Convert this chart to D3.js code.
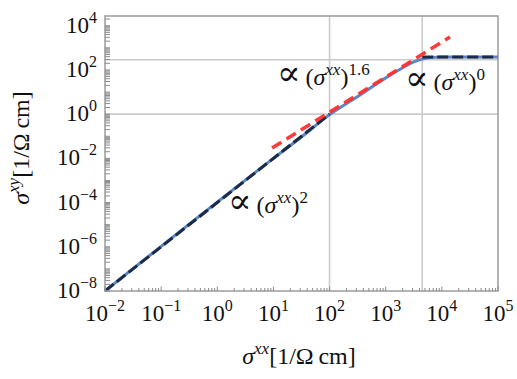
<!DOCTYPE html>
<html>
<head>
<meta charset="utf-8">
<script src="https://cdn.jsdelivr.net/npm/d3@7"></script>
<style>
  body { margin: 0; background: #fff; }
</style>
</head>
<body>
<svg id="chart" width="517" height="379"></svg>
<script>
// values
const xTickExps = [-2, -1, 0, 1, 2, 3, 4, 5];
const yTickExps = [-8, -6, -4, -2, 0, 2, 4];

// full curve (solid blue)
const curveXX = [0.01, 10, 31.6, 100, 316, 1000, 2000, 3160, 4470, 6310, 10000, 20000, 100000];
const curveXY = [1e-8, 0.01, 0.093, 0.955, 6.31, 43.7, 126, 229, 309, 363, 385, 389, 389];

// asymptotes
const quadXX = [0.01, 100];
const quadXY = [1e-8, 1];
const flatXX = [4470, 100000];
const flatXY = [389, 389];
const midXX = [9.44, 13960];
const midXY = [0.0295, 3090];

// reference grid lines
const gridXX = [100, 4470];
const gridXY = [1, 290];

const FONT = "'Liberation Serif', 'DejaVu Serif', serif";

const svg = d3.select("#chart");
const plot = { left: 105, right: 498, top: 16, bottom: 291 };

const x = d3.scaleLog().domain([1e-2, 1e5]).range([plot.left, plot.right]);
const y = d3.scaleLog().domain([1e-8, Math.pow(10, 4.44)]).range([plot.bottom, plot.top]);

// grid
svg.selectAll(".gx").data(gridXX).enter().append("line")
    .attr("x1", d => x(d)).attr("x2", d => x(d))
    .attr("y1", plot.top).attr("y2", plot.bottom)
    .attr("stroke", "#cbcbcb").attr("stroke-width", 1.6);
svg.selectAll(".gy").data(gridXY).enter().append("line")
    .attr("x1", plot.left).attr("x2", plot.right)
    .attr("y1", d => y(d)).attr("y2", d => y(d))
    .attr("stroke", "#cbcbcb").attr("stroke-width", 1.6);

const zip = (a, b) => a.map((v, i) => [v, b[i]]);
const smooth = d3.line().x(d => x(d[0])).y(d => y(d[1])).curve(d3.curveMonotoneX);
const straight = d3.line().x(d => x(d[0])).y(d => y(d[1]));

svg.append("path")
    .attr("d", smooth(zip(curveXX, curveXY)))
    .attr("fill", "none").attr("stroke", "#5b86c6").attr("stroke-width", 3);

[[quadXX, quadXY], [flatXX, flatXY]].forEach(([a, b]) => {
    svg.append("path")
        .attr("d", straight(zip(a, b)))
        .attr("fill", "none").attr("stroke", "#1c2b47")
        .attr("stroke-width", 3).attr("stroke-dasharray", "11,4");
});

svg.append("path")
    .attr("d", straight(zip(midXX, midXY)))
    .attr("fill", "none").attr("stroke", "#ff2f2f").attr("stroke-opacity", 0.95)
    .attr("stroke-width", 3.5).attr("stroke-dasharray", "11,6");

// frame
svg.append("rect")
    .attr("x", plot.left).attr("y", plot.top)
    .attr("width", plot.right - plot.left).attr("height", plot.bottom - plot.top)
    .attr("fill", "none").attr("stroke", "#9b9b9b").attr("stroke-width", 1.5);

// ticks (inward)
const minor = (lo, hi) => {
    const out = [];
    for (let e = lo; e < hi; e++) for (let m = 2; m <= 9; m++) out.push(m * Math.pow(10, e));
    return out;
};
const xMajor = d3.range(-2, 6).map(e => Math.pow(10, e));
const yMajor = d3.range(-8, 5).map(e => Math.pow(10, e));
const xMinor = minor(-2, 5);
const yMinor = minor(-8, 5).filter(v => v <= y.domain()[1]);

const tickG = svg.append("g").attr("stroke", "#8c8c8c").attr("stroke-width", 1);
tickG.selectAll(".xt").data(xMajor.map(v => [v, 4.5]).concat(xMinor.map(v => [v, 3])))
    .enter().append("line")
    .attr("x1", d => x(d[0])).attr("x2", d => x(d[0]))
    .attr("y1", plot.bottom).attr("y2", d => plot.bottom - d[1]);
tickG.selectAll(".yt").data(yMajor.map(v => [v, 5]).concat(yMinor.map(v => [v, 5])))
    .enter().append("line")
    .attr("y1", d => y(d[0])).attr("y2", d => y(d[0]))
    .attr("x1", plot.left).attr("x2", d => plot.left + d[1]);

// math-ish text helper: parts = [text, style]
// style: "i" italic, "s" superscript, "L" large glyph
function mathText(px, py, parts, anchor, size, supSize) {
    const t = svg.append("text").attr("x", px).attr("y", py)
        .attr("font-family", FONT).attr("fill", "#111")
        .attr("text-anchor", anchor || "start").attr("font-size", size);
    let raised = 0;
    parts.forEach(([s, st]) => {
        st = st || "";
        const sp = t.append("tspan").text(s);
        const sup = st.indexOf("s") >= 0;
        const want = sup ? -Math.round(size * 0.42) : 0;
        sp.attr("dy", want - raised);
        raised = want;
        if (sup) sp.attr("font-size", supSize);
        if (st.indexOf("L") >= 0) sp.attr("font-size", Math.round(size * 1.45));
        if (st.indexOf("i") >= 0) sp.attr("font-style", "italic");
    });
    return t;
}
const exp = e => (e < 0 ? "\u2212" + (-e) : String(e));

xTickExps.forEach(e => mathText(x(Math.pow(10, e)), 321, [["10"], [exp(e), "s"]], "middle", 23, 16));
yTickExps.forEach(e => mathText(97, y(Math.pow(10, e)) + 7, [["10"], [exp(e), "s"]], "end", 23, 16));

// axis labels
mathText(299, 364, [["\u03c3", "i"], ["xx", "si"], ["[1/\u03a9\u2009cm]"]], "middle", 24, 17);
mathText(0, 0, [["\u03c3", "i"], ["xy", "si"], ["[1/\u03a9\u2009cm]"]], "middle", 24, 17)
    .attr("transform", "translate(29,148) rotate(-90)");

// annotations
const prop = [["\u221d", "L"], ["\u2009("], ["\u03c3", "i"], ["xx", "si"], [")"]];
mathText(277, 85, prop.concat([["1.6", "s"]]), "start", 24, 17);
mathText(405, 90, prop.concat([["0", "s"]]), "start", 24, 17);
mathText(228, 213, prop.concat([["2", "s"]]), "start", 24, 17);
</script>
</body>
</html>
